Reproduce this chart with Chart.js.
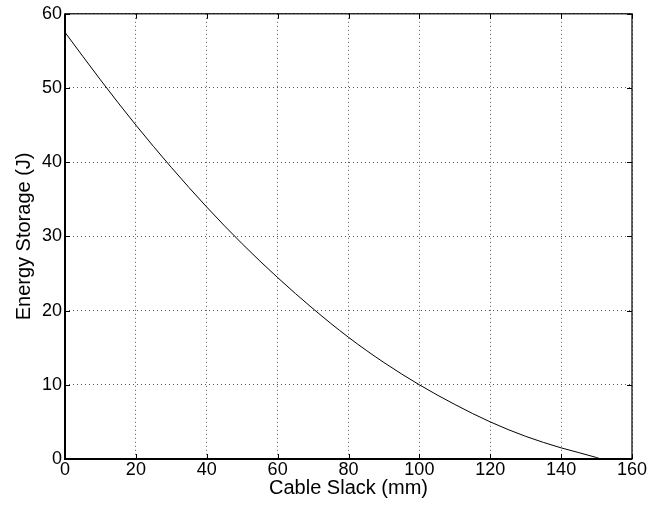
<!DOCTYPE html>
<html>
<head>
<meta charset="utf-8">
<script src="https://cdn.jsdelivr.net/npm/chart.js@4"></script>
<style>
  html, body { margin: 0; padding: 0; background: #fff; }
  #wrap { width: 659px; height: 505px; }
</style>
</head>
<body>
<div id="wrap"><canvas id="chart" width="659" height="505"></canvas></div>
<script>
// values
const slack = [0, 10, 20, 30, 40, 50, 60, 70, 80, 90, 100, 110, 120, 130, 140, 150, 151.2];
const energy = [57.5, 51.1, 45.0, 39.3, 33.95, 29.0, 24.45, 20.25, 16.4, 13.0, 10.0, 7.35, 5.0, 3.05, 1.5, 0.2, 0];
const xTicks = [0, 20, 40, 60, 80, 100, 120, 140, 160];
const yTicks = [0, 10, 20, 30, 40, 50, 60];

const font = 'Liberation Sans, Arial, Helvetica, sans-serif';

// MATLAB style box with inward ticks
const boxPlugin = {
  id: 'box',
  afterDraw(chart) {
    const { ctx, chartArea: a, scales } = chart;
    ctx.save();
    ctx.strokeStyle = '#000';
    ctx.lineWidth = 1;
    xTicks.forEach(v => {
      const px = Math.round(scales.x.getPixelForValue(v)) + 0.5;
      ctx.beginPath();
      ctx.moveTo(px, a.bottom); ctx.lineTo(px, a.bottom - 5);
      ctx.moveTo(px, a.top); ctx.lineTo(px, a.top + 5);
      ctx.stroke();
    });
    yTicks.forEach(v => {
      const py = Math.round(scales.y.getPixelForValue(v)) + 0.5;
      ctx.beginPath();
      ctx.moveTo(a.left, py); ctx.lineTo(a.left + 5, py);
      ctx.moveTo(a.right, py); ctx.lineTo(a.right - 5, py);
      ctx.stroke();
    });
    ctx.lineWidth = 1.2;
    ctx.strokeRect(a.left, a.top, a.right - a.left, a.bottom - a.top);
    ctx.lineWidth = 2;
    ctx.beginPath();
    ctx.moveTo(a.left, a.top); ctx.lineTo(a.left, a.bottom); ctx.lineTo(a.right, a.bottom);
    ctx.stroke();
    ctx.restore();
  }
};

const ctx = document.getElementById('chart').getContext('2d');

const chart = new Chart(ctx, {
  type: 'line',
  data: {
    datasets: [
      {
        data: slack.map((x, i) => ({ x: x, y: energy[i] })),
        borderColor: '#000',
        borderWidth: 1,
        pointRadius: 0,
        fill: false,
        cubicInterpolationMode: 'monotone'
      }
    ]
  },
  options: {
    responsive: false,
    animation: false,
    layout: { padding: { left: 0, top: 11, right: 27, bottom: 0 } },
    plugins: {
      legend: { display: false },
      tooltip: { enabled: false }
    },
    scales: {
      x: {
        type: 'linear',
        min: 0,
        max: 160,
        afterBuildTicks: s => { s.ticks = xTicks.map(v => ({ value: v })); },
        afterFit: s => { s.height = 46; },
        border: { display: false, dash: [1, 3] },
        grid: { color: '#555', lineWidth: 1, drawTicks: false },
        ticks: { color: '#000', padding: 0, maxRotation: 0, font: { family: font, size: 18 } },
        title: { display: true, text: 'Cable Slack (mm)', color: '#000', padding: { top: 0, bottom: 5 }, font: { family: font, size: 20 } }
      },
      y: {
        type: 'linear',
        min: 0,
        max: 60,
        afterBuildTicks: s => { s.ticks = yTicks.map(v => ({ value: v })); },
        afterFit: s => { s.width = 65; },
        border: { display: false, dash: [1, 3] },
        grid: { color: '#555', lineWidth: 1, drawTicks: false },
        ticks: { color: '#000', padding: 3, font: { family: font, size: 18 } },
        title: { display: true, text: 'Energy Storage (J)', color: '#000', padding: { top: 12, bottom: 0 }, font: { family: font, size: 20 } }
      }
    }
  },
  plugins: [boxPlugin]
});
</script>
</body>
</html>
